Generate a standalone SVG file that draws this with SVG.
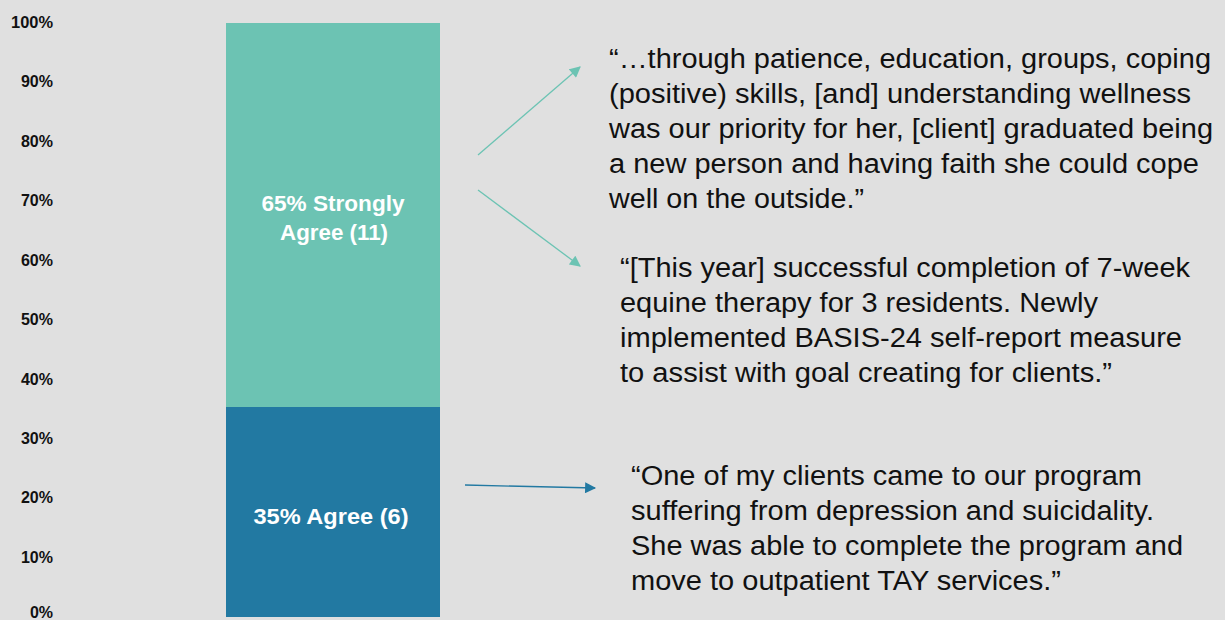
<svg xmlns="http://www.w3.org/2000/svg" width="1225" height="620" viewBox="0 0 1225 620">
<style>
.ax{font-family:"Liberation Sans",Arial,sans-serif;font-weight:bold;font-size:16px;fill:#111;text-anchor:end}
.in{font-family:"Liberation Sans",Arial,sans-serif;font-weight:bold;font-size:22px;fill:#fff;text-anchor:middle}
.q{font-family:"Liberation Sans",Arial,sans-serif;font-size:27px;fill:#111}
</style>
<defs>
<marker id="ht" viewBox="0 0 10 10" refX="9" refY="5" markerWidth="12" markerHeight="11" markerUnits="userSpaceOnUse" orient="auto"><path d="M0,0 L10,5 L0,10 z" fill="#6cc3b3"/></marker>
<marker id="hb" viewBox="0 0 10 10" refX="9" refY="5" markerWidth="12" markerHeight="11" markerUnits="userSpaceOnUse" orient="auto"><path d="M0,0 L10,5 L0,10 z" fill="#2279a2"/></marker>
</defs>
<rect width="1225" height="620" fill="#e0e0e0"/>
<g id="axis">
<text class="ax" x="53" y="28" textLength="42" lengthAdjust="spacingAndGlyphs">100%</text>
<text class="ax" x="53" y="87">90%</text>
<text class="ax" x="53" y="147">80%</text>
<text class="ax" x="53" y="206">70%</text>
<text class="ax" x="53" y="266">60%</text>
<text class="ax" x="53" y="325">50%</text>
<text class="ax" x="53" y="385">40%</text>
<text class="ax" x="53" y="444">30%</text>
<text class="ax" x="53" y="503">20%</text>
<text class="ax" x="53" y="563">10%</text>
<text class="ax" x="53" y="618">0%</text>
</g>
<g id="strongly-agree">
<rect x="226" y="23" width="214" height="384" fill="#6cc3b3"/>
<text class="in" x="333" y="211" textLength="143" lengthAdjust="spacingAndGlyphs">65% Strongly</text>
<text class="in" x="334" y="240" textLength="108" lengthAdjust="spacingAndGlyphs">Agree (11)</text>
</g>
<g id="agree">
<rect x="226" y="407" width="214" height="210" fill="#2279a2"/>
<text class="in" x="331" y="524" textLength="155" lengthAdjust="spacingAndGlyphs">35% Agree (6)</text>
</g>
<g id="connectors" fill="none" stroke-width="1.3">
<line x1="478" y1="155" x2="580" y2="67" stroke="#6cc3b3" marker-end="url(#ht)"/>
<line x1="478" y1="190" x2="580" y2="266" stroke="#6cc3b3" marker-end="url(#ht)"/>
<line x1="465" y1="485" x2="595" y2="488" stroke="#2279a2" marker-end="url(#hb)"/>
</g>
<g id="quote1">
<text class="q" x="609" y="68" textLength="602" lengthAdjust="spacingAndGlyphs">“…through patience, education, groups, coping</text>
<text class="q" x="609" y="103" textLength="582" lengthAdjust="spacingAndGlyphs">(positive) skills, [and] understanding wellness</text>
<text class="q" x="609" y="138" textLength="604" lengthAdjust="spacingAndGlyphs">was our priority for her, [client] graduated being</text>
<text class="q" x="609" y="173" textLength="590" lengthAdjust="spacingAndGlyphs">a new person and having faith she could cope</text>
<text class="q" x="609" y="208" textLength="255" lengthAdjust="spacingAndGlyphs">well on the outside.”</text>
</g>
<g id="quote2">
<text class="q" x="620" y="277" textLength="570" lengthAdjust="spacingAndGlyphs">“[This year] successful completion of 7-week</text>
<text class="q" x="620" y="312" textLength="478" lengthAdjust="spacingAndGlyphs">equine therapy for 3 residents. Newly</text>
<text class="q" x="620" y="347" textLength="562" lengthAdjust="spacingAndGlyphs">implemented BASIS-24  self-report measure</text>
<text class="q" x="620" y="382" textLength="492" lengthAdjust="spacingAndGlyphs">to assist with goal creating for clients.”</text>
</g>
<g id="quote3">
<text class="q" x="631" y="485" textLength="511" lengthAdjust="spacingAndGlyphs">“One of my clients came to our program</text>
<text class="q" x="631" y="520" textLength="523" lengthAdjust="spacingAndGlyphs">suffering from depression and suicidality.</text>
<text class="q" x="631" y="555" textLength="552" lengthAdjust="spacingAndGlyphs">She was able to complete the program and</text>
<text class="q" x="631" y="590" textLength="430" lengthAdjust="spacingAndGlyphs">move to outpatient TAY services.”</text>
</g>
</svg>
